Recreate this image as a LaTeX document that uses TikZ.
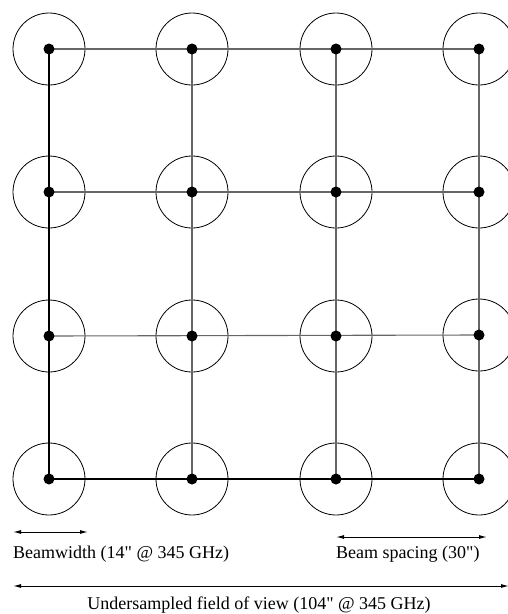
\documentclass[tikz,border=0pt]{standalone}
\usepackage{fontspec}
\setmainfont{Liberation Serif}[Ligatures=TeXOff]
\usetikzlibrary{
    arrows.meta,
    positioning
}

\begin{document}
\begin{tikzpicture}[
    x=1pt,
    y=-1pt,
    font=\fontsize{18}{21}\selectfont,
    beam/.style={
        circle,
        draw=black,
        line width=0.8pt,
        minimum size=72pt,
        inner sep=0pt
    },
    beamdot/.style={
        circle,
        fill=black,
        minimum size=11pt,
        inner sep=0pt
    },
    gridline/.style={
        line width=1.1pt,
        draw=black!60
    },
    span/.style={
        {Latex[length=8pt,width=4pt]}-{Latex[length=8pt,width=4pt]},
        line width=1pt,
        draw=black
    },
    caption/.style={
        anchor=west,
        inner sep=0pt
    }
]
\useasboundingbox (0,0) rectangle (507,614);

% =========================================================
% Beams (footprints)
% =========================================================
\node[beam] (b11) at (49,49) {};
\node[beam] (b12) at (192,49) {};
\node[beam] (b13) at (336,49) {};
\node[beam] (b14) at (479,49) {};

\node[beam] (b21) at (49,192) {};
\node[beam] (b22) at (192,192) {};
\node[beam] (b23) at (336,192) {};
\node[beam] (b24) at (479,192) {};

\node[beam] (b31) at (49,336) {};
\node[beam] (b32) at (192,336) {};
\node[beam] (b33) at (336,336) {};
\node[beam] (b34) at (479,335) {};

\node[beam] (b41) at (49,479) {};
\node[beam] (b42) at (192,479) {};
\node[beam] (b43) at (336,479) {};
\node[beam] (b44) at (479,479) {};

% =========================================================
% Grid lines
% =========================================================
\draw[gridline] (b11.center) -- (b14.center);
\draw[gridline] (b21.center) -- (b24.center);
\draw[gridline] (b31.center) -- (b34.center);
\draw[gridline, draw=black] (b41.center) -- (b44.center);

\draw[gridline, draw=black] (b11.center) -- (b41.center);
\draw[gridline] (b12.center) -- (b42.center);
\draw[gridline] (b13.center) -- (b43.center);
\draw[gridline] (b14.center) -- (b44.center);

% =========================================================
% Beam centres
% =========================================================
\foreach \n in {11,12,13,14,21,22,23,24,31,32,33,34,41,42,43,44}
    \node[beamdot] (d\n) at (b\n.center) {};

% =========================================================
% Scale arrows
% =========================================================
\coordinate (bwl) at (13,532);
\coordinate (bwr) at (88,532);
\coordinate (bsl) at (336,537);
\coordinate (bsr) at (487,537);
\coordinate (fvl) at (13,586);
\coordinate (fvr) at (509,586);

\draw[span] (bwl) -- (bwr);
\draw[span] (bsl) -- (bsr);
\draw[span] (fvl) -- (fvr);

\node[caption] (bwtext) at (13,554) {Beamwidth (14" @ 345 GHz)};
\node[caption] (bstext) at (336,554) {Beam spacing (30")};
\node[inner sep=0pt] (fvtext) at (259,605) {Undersampled field of view (104" @ 345 GHz)};

\end{tikzpicture}
\end{document}
